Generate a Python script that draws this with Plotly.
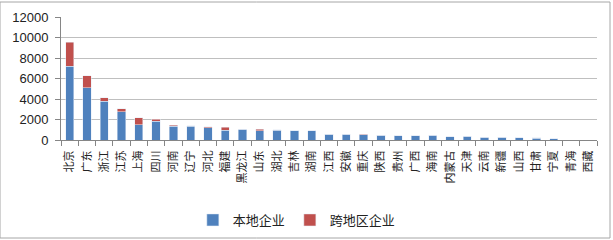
import plotly.graph_objects as go

categories = ["北京", "广东", "浙江", "江苏", "上海", "四川", "河南", "辽宁", "河北", "福建",
              "黑龙江", "山东", "湖北", "吉林", "湖南", "江西", "安徽", "重庆", "陕西", "贵州",
              "广西", "海南", "内蒙古", "天津", "云南", "新疆", "山西", "甘肃", "宁夏", "青海", "西藏"]
local_firms = [7200, 5100, 3800, 2750, 1500, 1850, 1340, 1330, 1180, 950,
               1030, 920, 950, 900, 890, 550, 540, 530, 450, 420,
               420, 440, 330, 350, 260, 260, 200, 190, 120, 0, 0]
cross_region = [2350, 1180, 300, 320, 680, 180, 90, 40, 120, 280,
                20, 150, 60, 15, 15, 10, 10, 10, 10, 10,
                5, 10, 5, 10, 5, 5, 5, 10, 10, 0, 0]
y_ticks = [0, 2000, 4000, 6000, 8000, 10000, 12000]
y_tick_labels = ["0", "2000", "4000", "6000", "8000", "10000", "12000"]

fig = go.Figure()
fig.add_trace(go.Bar(x=categories, y=local_firms, name="本地企业", marker_color="#4F81BD"))
fig.add_trace(go.Bar(x=categories, y=cross_region, name="跨地区企业", marker_color="#C0504D"))

fig.update_layout(
    width=613, height=240,
    margin=dict(l=61, r=16, t=17, b=100, autoexpand=False),
    barmode="stack", bargap=0.52,
    paper_bgcolor="white", plot_bgcolor="white",
    font=dict(family="Liberation Sans, Arial", size=13, color="#222"),
    showlegend=True,
    legend=dict(orientation="h", traceorder="normal", x=0.44, xanchor="center",
                yref="container", y=(240 - 220) / 240, yanchor="middle",
                font=dict(family="Noto Sans CJK SC", size=13, color="#222"),
                itemwidth=30, bgcolor="rgba(0,0,0,0)"),
    shapes=[dict(type="rect", xref="paper", yref="paper",
                 x0=-61/536, x1=(610-61)/536, y0=(140-238)/123, y1=(140-2)/123,
                 line=dict(color="#A6A6A6", width=1), fillcolor="rgba(0,0,0,0)", layer="below")],
)
fig.update_xaxes(
    type="category", tickangle=-90, tickson="boundaries", automargin=False,
    ticks="outside", ticklen=5, tickcolor="#868686", ticklabelstandoff=5,
    showline=True, linecolor="#868686", linewidth=1,
    tickfont=dict(family="Noto Sans CJK SC", size=11, color="#222"),
    showgrid=False,
)
fig.update_yaxes(
    range=[0, 12000], tickvals=y_ticks, ticktext=y_tick_labels, automargin=False,
    ticks="outside", ticklen=5, tickcolor="#868686", ticklabelstandoff=4,
    showline=True, linecolor="#868686", linewidth=1,
    showgrid=True, gridcolor="#BFBFBF", gridwidth=1,
    tickfont=dict(family="Liberation Sans, Arial", size=13, color="#222"),
    zeroline=False,
)

fig.write_html("out.html")
